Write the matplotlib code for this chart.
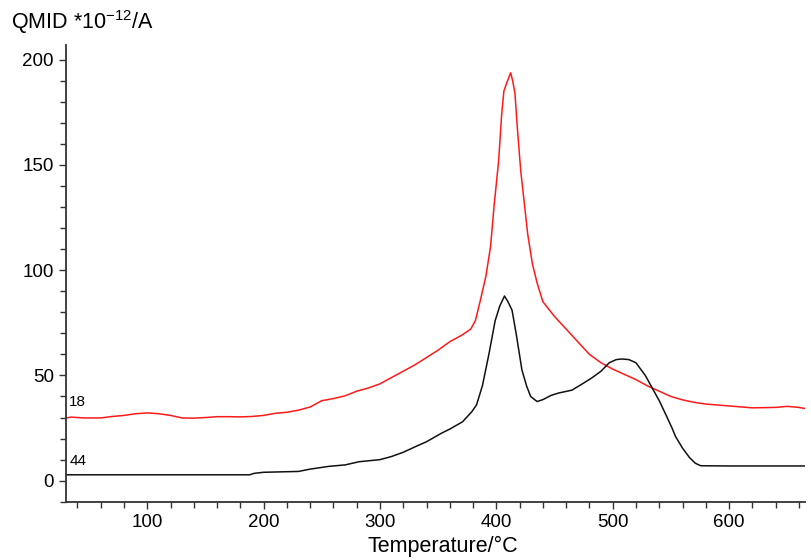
import matplotlib
matplotlib.use("Agg")
import matplotlib.pyplot as plt
from matplotlib.ticker import MultipleLocator

plt.rcParams["font.family"] = ["Liberation Sans", "DejaVu Sans"]
plt.rcParams["mathtext.fontset"] = "custom"
plt.rcParams["mathtext.rm"] = "Liberation Sans"
plt.rcParams["mathtext.default"] = "rm"

# m/z 18 (water) trace
t18 = [30, 35, 45, 60, 70, 80, 90, 100, 110, 120, 130, 140, 150, 160, 170, 180,
       190, 200, 210, 220, 230, 240, 250, 260, 270, 280, 290, 300, 310, 320, 330,
       340, 350, 360, 370, 378, 382, 386, 391, 395, 398, 402, 404.6, 406.5, 409,
       412.3, 414, 416, 418, 421, 424, 427, 431, 435, 440, 450, 460, 470, 480, 490,
       500, 510, 520, 530, 540, 550, 560, 570, 580, 600, 620, 640, 650, 660, 665]
i18 = [29.8, 30.2, 29.8, 29.8, 30.5, 31, 31.8, 32.2, 31.8, 31, 29.8, 29.7, 30, 30.4,
       30.4, 30.3, 30.5, 31, 32, 32.5, 33.5, 35, 38, 39, 40.3, 42.5, 44, 46, 49, 52,
       55, 58.5, 62, 66, 69, 72, 76, 85, 97, 111, 130, 152, 174, 185, 189,
       193.7, 190, 184, 168, 147, 132, 117, 103, 94, 85, 78, 72, 66, 60, 56,
       53, 50.5, 48, 45, 42.5, 40, 38.4, 37.2, 36.4, 35.5, 34.6, 34.8, 35.3, 34.8, 34.3]

# m/z 44 (CO2) trace
t44 = [30, 188, 192, 200, 230, 240, 256, 270, 282, 300, 310, 320, 331, 340, 353,
       360, 371, 379, 383, 388, 393.6, 399, 403, 407, 410, 413.5, 417, 422, 426,
       429.5, 435, 440, 447, 454, 465, 474, 482, 490, 497, 503, 508, 514, 520, 528,
       534, 540, 546, 551, 554, 560, 566, 571, 575.7, 600, 665]
i44 = [2.8, 2.8, 3.5, 4, 4.4, 5.5, 6.8, 7.5, 9, 10, 11.5, 13.5, 16.3, 18.5, 22.6,
       24.5, 28, 32.8, 36, 45, 60, 76, 83, 87.7, 85, 81, 70, 52.6, 45,
       40, 37.6, 38.5, 40.5, 41.7, 43, 46, 48.8, 52, 56, 57.5, 57.8, 57.5, 56, 50,
       44, 38, 31, 25, 21, 15.5, 11, 8.3, 7.1, 7, 7]

fig = plt.figure(figsize=(8.12, 5.6), dpi=100)
ax = fig.add_axes([0.081, 0.104, 0.91, 0.816])

ax.plot(t18, i18, color="#ff1a1a", lw=1.1)
ax.plot(t44, i44, color="#111111", lw=1.1)
ax.text(33, 34, "18", fontsize=11, ha="left", va="bottom")
ax.text(33, 6, "44", fontsize=11, ha="left", va="bottom")

ax.set_xlim(30, 665)
ax.set_ylim(-10, 207)
ax.xaxis.set_major_locator(MultipleLocator(100))
ax.xaxis.set_minor_locator(MultipleLocator(20))
ax.yaxis.set_major_locator(MultipleLocator(50))
ax.yaxis.set_minor_locator(MultipleLocator(10))

for s in ["top", "right"]:
    ax.spines[s].set_visible(False)
for s in ["left", "bottom"]:
    ax.spines[s].set_color("#333333")
    ax.spines[s].set_linewidth(1.3)

ax.tick_params(which="both", direction="out", color="#333333", width=1)
ax.tick_params(which="major", length=5, labelsize=13.5)
ax.tick_params(which="minor", length=4)

ax.set_xlabel("Temperature/°C", fontsize=15.5, labelpad=4)
ax.xaxis.set_label_coords(0.51, -0.075)
fig.text(0.014, 0.96, "QMID *10$^{\u221212}$/A", fontsize=15.5, ha="left", va="center")

fig.savefig("out.png", dpi=100)
